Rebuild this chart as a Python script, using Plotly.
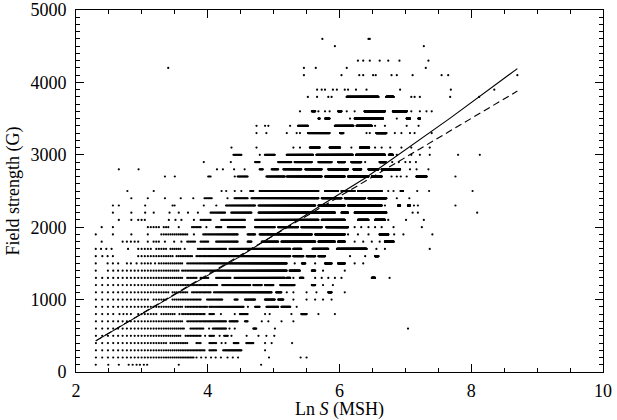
import math
import numpy as np
import plotly.graph_objects as go

# ---- data -----------------------------------------------------------------
# Each row string lists ln S positions of the points on one field-strength level.
# "a-b" = every integer area S (MSH) with ln S between a and b; a single number = one point.
field_levels_low = [100, 200, 300, 400, 500, 600, 700, 800, 900,
                    1000, 1100, 1200, 1300, 1400, 1500, 1600, 1700]
ln_s_rows_low = [
    "2.30 2.49 2.65 2.80 2.86 2.92 2.97 3.03 3.08 3.56 4.81",
    "2.30-3.78 3.83 3.90 3.97 4.05 4.12 4.20 4.30 4.38 4.46 4.93 5.41 5.50",
    "2.30-3.95 4.02-4.12 4.23-4.51 4.87",
    "2.30-3.37 3.42-3.70 3.83-3.90 4.02-4.12 4.21 4.27 4.40-4.47 4.59-4.69 4.87 4.97 5.28",
    "2.30-3.58 3.66-3.90 3.96 4.03-4.10 4.18 4.25-4.30 4.36 4.59 4.77 4.89 5.01",
    "2.30-3.65 3.73-3.93 4.02 4.08-4.28 4.33 4.41 4.69-4.74 5.02 7.04",
    "2.30-3.62 3.70-4.28 4.33-4.45 4.56-4.61 4.82 4.92 5.12 5.30",
    "2.30-2.60 2.66 2.72 2.78-2.85 2.95-3.20 3.28-3.50 3.57 3.62-3.95 4.02-4.10 4.20 4.41 "
    "4.49-4.61 4.87 4.94 5.27 5.42-5.50 5.68 5.93",
    "2.30-3.60 3.66-3.98 4.03-4.54 4.61 4.72-4.79 4.89-5.07 5.12-5.25 5.35",
    "2.30-2.70 2.78-2.92 3.00-3.08 3.18-3.38 3.47-3.90 3.98-4.22 4.41-4.46 4.56-4.72 "
    "4.87-5.02 5.07-5.15 5.30 5.50 5.63 5.75 5.88",
    "2.30-3.40 3.45-3.70 3.75-4.05 4.10-4.97 5.04-5.12 5.20 5.30 5.50 5.65 5.83-5.88 6.08",
    "2.30-3.35 3.40-4.15 4.22-4.64 4.69-4.82 4.87-5.00 5.10-5.32 5.58-5.63 5.75 5.90",
    "2.30-3.35 3.40-3.62 3.68-3.83 3.90-4.00 4.12-4.35 4.41-5.17 5.20-5.25 5.30 5.40-5.45 "
    "5.63 5.73 5.83 5.93 6.03 6.49-6.54 6.76",
    "2.30 2.48-2.95 3.00 3.05-3.55 3.62-5.20 5.24-5.40 5.58-5.63 5.75 6.08",
    "2.30 2.48 2.56 2.64 2.80-2.86 2.92 3.00-3.12 3.20 3.25-3.60 3.70-5.20 5.32 5.43-5.48 "
    "5.63 5.78-5.88 5.98-6.08 6.23 6.36",
    "2.30 2.40 2.48 2.56 2.92-3.10 3.15-3.45 3.52-3.75 3.82-5.25 5.30-5.45 5.50-5.63 "
    "5.68-5.78 6.16 6.39 6.54-6.59",
    "2.30 2.38 2.46 2.54 2.79 2.92-3.12 3.22-3.37 3.43-3.58 3.65 3.84-4.28 4.33-5.25 "
    "5.30-5.42 5.59-5.83 5.96-6.41 6.56 6.69 7.37",
]

field_levels_high = [1800, 1900, 2000, 2100, 2200, 2300, 2400, 2500, 2700, 2800,
                     2900, 3000, 3100, 3300, 3400, 3500, 3600, 3800, 3900, 4100,
                     4200, 4300, 4500, 4600]
ln_s_rows_high = [
    "2.39 2.71-2.95 3.09 3.19-3.27 3.35 3.49 3.60 3.70-3.80 3.90-4.00 4.13-4.46 4.61-4.66 "
    "4.82-5.07 5.12-5.63 5.68-5.93 5.98-6.08 6.23 6.36 6.49 6.61 6.69-6.82",
    "2.30 2.56 2.84 3.09 3.29-3.45 3.51-3.70 3.79 3.93-4.46 4.61-4.72 4.79-5.58 5.63-6.08 "
    "6.13 6.28 6.44 6.61-6.74 6.83 6.97 7.41",
    "2.39 2.56 3.09-3.24 3.34-3.39 3.56 3.75-3.90 3.98 4.13-4.21 4.31-4.56 4.72-5.02 "
    "5.07-5.37 5.42-5.73 5.80-6.13 6.23 6.33 6.44 6.54 6.64 6.82 7.25",
    "2.65 2.84 2.95-3.05 3.41 3.51 3.60 3.79 3.90-4.05 4.21-4.56 4.72-5.68 5.73-6.08 "
    "6.28-6.44 6.54-6.69 6.74 7.01 7.28",
    "2.56 2.84 3.05 3.18 3.42 3.56 3.70 3.85 4.05-4.26 4.36-4.66 4.77-5.93 6.03-6.13 "
    "6.23-6.71 7.11 7.19 8.09",
    "2.56 2.65 3.05 3.47-3.51 3.94 4.13 4.28-4.72 4.77-5.63 5.68-6.08 6.13-6.64 6.69 "
    "6.89-6.92 7.04-7.07 7.13 7.19 7.76",
    "2.84 3.09 3.35 3.59 3.78 3.96-4.06 4.30 4.41-4.61 4.66-5.68 5.73-6.03 6.08-6.39 "
    "6.44-6.71 6.87 7.06",
    "2.78 3.18 4.21 4.28 4.41 4.51 4.64-4.69 4.79-5.68 5.78-5.98 6.03-6.23 6.28-6.64 "
    "6.74 6.82 6.93-6.96 7.18 7.36 8.02",
    "3.35 3.50 4.01-4.05 4.41 4.46-4.61 4.89-5.17 5.20-5.73 5.78-6.08 6.13-6.44 6.49-6.64 "
    "6.79 6.87 6.93 7.02 7.17-7.32 7.76",
    "2.65 2.95 4.14 4.23 4.40 4.56 4.79-4.84 4.97-5.07 5.15-5.42 5.48-5.73 5.83-6.13 "
    "6.21-6.33 6.44-6.59 6.64-6.92 7.07 7.17 7.35",
    "3.94 4.35 4.72-4.79 5.07-5.27 5.32-5.58 5.68-5.88 5.98-6.08 6.18-6.33 6.39 6.61-6.70 "
    "6.80 6.90 7.00 7.07 7.16",
    "4.39 4.41-4.51 4.79 4.87-5.02 5.20-5.60 5.65-6.20 6.25-6.69 6.75-6.81 6.87 7.09 7.22 "
    "7.37 7.80 8.13",
    "4.36 4.74 5.30 5.40 5.55-5.70 5.85-6.01 6.18 6.31-6.45 6.54 6.64 6.77 6.94 7.09 7.37",
    "4.74 4.89 5.20 5.35 5.40 5.52-5.85 6.01-6.06 6.41 6.46 6.56-6.71 6.84 6.94 7.07 7.14 7.40",
    "4.74 4.87 4.92 5.25 5.37-5.52 5.93-6.21 6.26-6.49 6.54 6.69 7.02 7.20",
    "5.68-5.70 5.78-5.85 6.16 6.23-6.66 6.87 7.02-7.07 7.20-7.22",
    "5.40 5.58-5.63 5.68 5.78 5.85 5.98-6.03 6.11 6.23 6.38-6.69 6.81-7.02 7.09 7.22 7.32 7.40",
    "5.52 5.66 5.83 5.88 6.11-6.59 6.71-6.82 7.09 7.14 7.22 7.68 8.12",
    "5.66 5.73 5.78 5.90 5.96 6.08 6.13 6.25 6.41 6.92 7.69 8.35",
    "5.46 6.03 6.30 6.36 6.51 6.55 6.79 6.87 7.11 7.55 7.65 8.70",
    "3.40 5.46 5.64 6.11 7.31",
    "6.28 6.36 6.46 6.61 6.74 6.91 7.35",
    "5.93 7.28",
    "5.74 6.44 6.46",
]

# regression lines
fit_solid_ln_s = [2.30, 4.46, 5.70, 6.41, 7.68, 8.70]
fit_solid_b = [430, 1580, 2290, 2690, 3507, 4190]
fit_dash_ln_s = [2.30, 8.70]
fit_dash_b = [430, 3880]

x_tick_vals = [2, 4, 6, 8, 10]
y_tick_vals = [0, 1000, 2000, 3000, 4000, 5000]


def expand(levels, rows):
    xs, ys = [], []
    for b, row in zip(levels, rows):
        for tok in row.split():
            if "-" in tok:
                a, c = (float(v) for v in tok.split("-"))
                for s in range(round(math.exp(a)), round(math.exp(c)) + 1):
                    xs.append(math.log(s))
                    ys.append(b)
            else:
                xs.append(float(tok))
                ys.append(b)
    return xs, ys


x_low, y_low = expand(field_levels_low, ln_s_rows_low)
x_high, y_high = expand(field_levels_high, ln_s_rows_high)
pts_x = x_low + x_high
pts_y = y_low + y_high

FONT = "Liberation Serif, Times New Roman, serif"
FS = 18

fig = go.Figure()
fig.add_trace(go.Scatter(
    x=pts_x, y=pts_y, mode="markers",
    marker=dict(size=2.2, color="black", line=dict(width=0)),
    hoverinfo="skip"))
fig.add_trace(go.Scatter(
    x=fit_solid_ln_s, y=fit_solid_b, mode="lines",
    line=dict(color="black", width=1.1), hoverinfo="skip"))
fig.add_trace(go.Scatter(
    x=fit_dash_ln_s, y=fit_dash_b, mode="lines",
    line=dict(color="black", width=1.1, dash="7px,4px"), hoverinfo="skip"))

axis_common = dict(
    showline=True, linecolor="black", linewidth=1, mirror="allticks",
    ticks="inside", ticklen=8, tickwidth=1, tickcolor="black",
    showgrid=False, zeroline=False, automargin=False,
    ticklabeloverflow="allow",
    tickfont=dict(family=FONT, size=FS, color="black"),
)

fig.update_layout(
    template="none",
    width=617, height=420,
    margin=dict(l=76, r=14, t=10, b=48, pad=0),
    paper_bgcolor="white", plot_bgcolor="white",
    showlegend=False,
    font=dict(family=FONT, size=FS, color="black"),
    xaxis=dict(
        range=[2, 10], tickvals=x_tick_vals, ticktext=[str(v) for v in x_tick_vals],
        minor=dict(dtick=0.5, tick0=0, ticks="inside", ticklen=4, tickcolor="black"),
        ticklabelstandoff=2,
        title=dict(text="Ln <i>S</i> (MSH)", standoff=2,
                   font=dict(family=FONT, size=FS, color="black")),
        **axis_common),
    yaxis=dict(
        range=[0, 5000], tickvals=y_tick_vals, ticktext=[str(v) for v in y_tick_vals],
        minor=dict(dtick=100, tick0=0, ticks="inside", ticklen=4, tickcolor="black"),
        ticklabelstandoff=5,
        title=dict(text="Field strength (G)", standoff=6,
                   font=dict(family=FONT, size=FS, color="black")),
        **axis_common),
)

fig.write_html(
    "out.html",
    config={"displayModeBar": False, "staticPlot": True},
    post_script="document.body.style.margin='0px';document.body.style.overflow='hidden';",
)
